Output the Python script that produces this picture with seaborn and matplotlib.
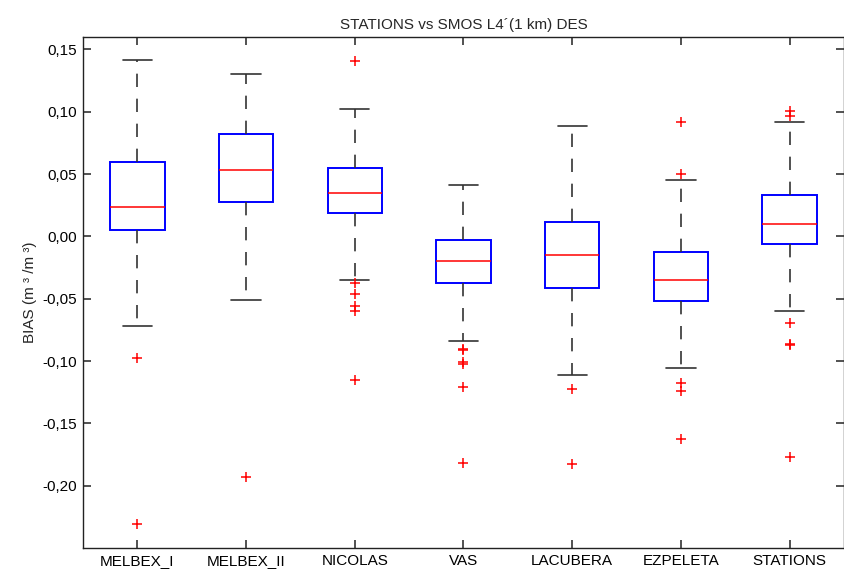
import matplotlib
matplotlib.use("Agg")
import matplotlib.pyplot as plt
import matplotlib.ticker as mticker
import seaborn as sns
import pandas as pd

stations = ["MELBEX_I", "MELBEX_II", "NICOLAS", "VAS", "LACUBERA", "EZPELETA", "STATIONS"]
lower_whisker = [-0.0721, -0.0511, -0.0346, -0.0836, -0.1110, -0.1057, -0.0596]
q1 = [0.0048, 0.0274, 0.0189, -0.0375, -0.0410, -0.0522, -0.0061]
median = [0.0237, 0.0535, 0.0349, -0.0200, -0.0152, -0.0349, 0.0101]
q3 = [0.0597, 0.0820, 0.0549, -0.0027, 0.0112, -0.0125, 0.0335]
upper_whisker = [0.1419, 0.1307, 0.1020, 0.0413, 0.0887, 0.0450, 0.0921]
outliers = [
    [-0.0972, -0.2306],
    [-0.1933],
    [0.1408, -0.0375, -0.0466, -0.0559, -0.0599, -0.1156],
    [-0.0903, -0.0912, -0.1005, -0.1020, -0.1209, -0.1818],
    [-0.1222, -0.1829],
    [0.0919, 0.0498, -0.1174, -0.1243, -0.1629],
    [0.1004, 0.0966, -0.0697, -0.0860, -0.0870, -0.1768],
]

# Build a table whose box statistics equal the values read above
REP = 40
rows = []
for i, name in enumerate(stations):
    vals = list(outliers[i]) + [lower_whisker[i], upper_whisker[i]]
    vals += [q1[i]] * REP + [median[i]] * REP + [q3[i]] * REP
    rows += [(name, v) for v in vals]
df = pd.DataFrame(rows, columns=["station", "bias"])

sns.set_style("ticks")
plt.rcParams["font.family"] = ["Liberation Sans", "DejaVu Sans"]

fig = plt.figure(figsize=(8.45, 5.70), dpi=100)
ax = fig.add_axes([0.0982, 0.0386, 0.9006, 0.8965])

sns.boxplot(
    data=df, x="station", y="bias", order=stations,
    color="white", linecolor="blue", width=0.5, whis=1.5,
    fliersize=7, linewidth=1.3, ax=ax,
    boxprops=dict(edgecolor="blue", facecolor="white", linewidth=1.4),
    medianprops=dict(color="red", linewidth=1.1),
    whiskerprops=dict(color="#333333", linewidth=1.2, linestyle=(0, (8, 7))),
    capprops=dict(color="#333333", linewidth=1.2),
    flierprops=dict(marker="+", markeredgecolor="red", markerfacecolor="red",
                    markeredgewidth=1.1, markersize=7),
    capwidths=0.27,
)

ax.set_xlim(-0.5, 6.5)
ax.set_ylim(-0.25, 0.16)
ax.set_yticks([-0.20, -0.15, -0.10, -0.05, 0.00, 0.05, 0.10, 0.15])
ax.yaxis.set_major_formatter(mticker.FuncFormatter(lambda v, p: f"{v:.2f}".replace(".", ",").replace("-0,00", "0,00")))
ax.set_xlabel("")
ax.set_ylabel("BIAS (m ³ /m ³)", fontsize=11, labelpad=4)
ax.set_title("STATIONS vs SMOS L4´(1 km) DES", fontsize=11, pad=6)
ax.xaxis.set_ticks_position("both")
ax.yaxis.set_ticks_position("both")
ax.tick_params(axis="both", which="major", direction="in", length=6, width=1.1,
               labelsize=11, colors="#222222", labelcolor="black", pad=4)
for s in ax.spines.values():
    s.set_visible(True)
    s.set_color("#222222")
    s.set_linewidth(1.0)

fig.savefig("out.png", dpi=100)
